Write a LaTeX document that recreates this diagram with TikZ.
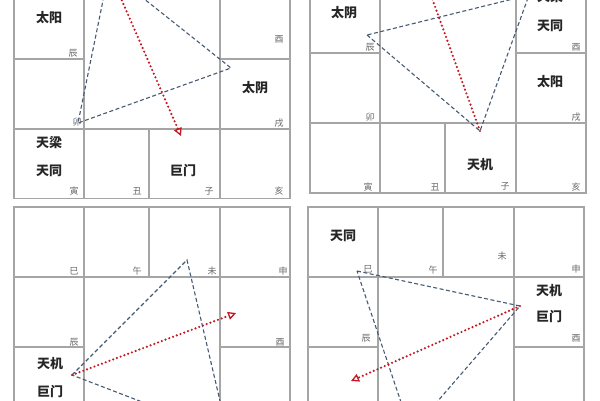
\documentclass[tikz,border=0pt]{standalone}
\usepackage{fontspec}
\newfontfamily\cjk{Noto Sans CJK SC}
\usetikzlibrary{arrows.meta}
\definecolor{cellgray}{RGB}{165,165,165}
\definecolor{trineblue}{RGB}{70,90,115}
\definecolor{oppred}{RGB}{195,25,35}
\definecolor{branchgray}{RGB}{105,105,105}
% one palace chart, top left corner at (#1,#2)
\newcommand{\palacegrid}[2]{%
\draw[cellline] (#1,#2) rectangle ({#1+276},{#2+280});
\draw[cellline] (#1,{#2+70}) -- ({#1+276},{#2+70});
\draw[cellline] (#1,{#2+210}) -- ({#1+276},{#2+210});
\draw[cellline] (#1,{#2+140}) -- ({#1+70},{#2+140});
\draw[cellline] ({#1+206},{#2+140}) -- ({#1+276},{#2+140});
\draw[cellline] ({#1+70},#2) -- ({#1+70},{#2+280});
\draw[cellline] ({#1+206},#2) -- ({#1+206},{#2+280});
\draw[cellline] ({#1+135},#2) -- ({#1+135},{#2+70});
\draw[cellline] ({#1+135},{#2+210}) -- ({#1+135},{#2+280});
}
\begin{document}
\begin{tikzpicture}[x=1pt,y=-1pt,
cellline/.style={cellgray, line width=1.1pt},
star/.style={font=\cjk\bfseries\fontsize{13}{13}\selectfont, text=black!85, inner sep=0},
branch/.style={font=\cjk\fontsize{9}{9}\selectfont, text=branchgray, inner sep=0},
trine/.style={trineblue, line width=1.1pt, dash pattern=on 4pt off 2.5pt},
opp/.style={oppred, line width=2.4pt, line cap=round, dash pattern=on 0pt off 4pt,
  -{Triangle[open, length=8pt, width=8pt, line width=1.3pt]}}]
\useasboundingbox[fill=white] (0,0) rectangle (600,400);

% top left chart
\begin{scope}
\clip (0,0) rectangle (300,198);
\palacegrid{14}{-81}
\node[star] (a-taiyang) at (49,18) {太阳};
\node[star] (a-taiyin) at (255,88) {太阴};
\node[star] (a-tianliang) at (49,143) {天梁};
\node[star] (a-tiantong) at (49,171) {天同};
\node[star] (a-jumen) at (183,171) {巨门};
\node[branch] (a-chen) at (73,53) {辰};
\node[branch] (a-you) at (279,39) {酉};
\node[branch] (a-mao) at (77,122) {卯};
\node[branch] (a-xu) at (279,123) {戌};
\node[branch] (a-yin) at (74,191) {寅};
\node[branch] (a-chou) at (137,191) {丑};
\node[branch] (a-zi) at (209,191) {子};
\node[branch] (a-hai) at (279,191) {亥};
\coordinate (a1) at (109,-29);
\coordinate (a2) at (78,123);
\coordinate (a3) at (231,68);
\coordinate (a-tip) at (181,136);
\draw[trine] (a1) -- (a2) -- (a3) -- cycle;
\draw[opp] (a1) -- (a-tip);
\end{scope}

% top right chart
\begin{scope}
\clip (300,0) rectangle (600,199);
\palacegrid{310}{-87}
\node[star] (b-taiyin) at (344,13) {太阴};
\node[star] (b-tianliang) at (550,-3) {天梁};
\node[star] (b-tiantong) at (550,26) {天同};
\node[star] (b-taiyang) at (550,82) {太阳};
\node[star] (b-tianji) at (480,165) {天机};
\node[branch] (b-chen) at (370,47) {辰};
\node[branch] (b-you) at (576,47) {酉};
\node[branch] (b-mao) at (370,117) {卯};
\node[branch] (b-xu) at (576,117) {戌};
\node[branch] (b-yin) at (368,187) {寅};
\node[branch] (b-chou) at (435,187) {丑};
\node[branch] (b-zi) at (505,186) {子};
\node[branch] (b-hai) at (576,187) {亥};
\coordinate (b1) at (367,35);
\coordinate (b2) at (480,131);
\coordinate (b3) at (529,-5);
\coordinate (b-tip) at (420,-35);
\draw[trine] (b1) -- (b2) -- (b3) -- cycle;
\draw[opp] (b2) -- (b-tip);
\end{scope}

% bottom left chart
\begin{scope}
\clip (0,203) rectangle (300,400);
\palacegrid{14}{207}
\node[star] (c-tianji) at (50,364) {天机};
\node[star] (c-jumen) at (50,391) {巨门};
\node[branch] (c-si) at (74,271) {巳};
\node[branch] (c-wu) at (137,271) {午};
\node[branch] (c-wei) at (212,271) {未};
\node[branch] (c-shen) at (283,271) {申};
\node[branch] (c-chen) at (74,342) {辰};
\node[branch] (c-you) at (280,342) {酉};
\coordinate (c1) at (72,375);
\coordinate (c2) at (187,260);
\coordinate (c3) at (228,435);
\coordinate (c-tip) at (236,313);
\draw[trine] (c1) -- (c2) -- (c3) -- cycle;
\draw[opp] (c1) -- (c-tip);
\end{scope}

% bottom right chart
\begin{scope}
\clip (300,203) rectangle (600,400);
\palacegrid{308}{207}
\node[star] (d-tiantong) at (343,236) {天同};
\node[star] (d-tianji) at (549,291) {天机};
\node[star] (d-jumen) at (549,317) {巨门};
\node[branch] (d-si) at (368,269) {巳};
\node[branch] (d-wu) at (433,270) {午};
\node[branch] (d-wei) at (502,256) {未};
\node[branch] (d-shen) at (576,269) {申};
\node[branch] (d-chen) at (366,338) {辰};
\node[branch] (d-you) at (576,338) {酉};
\coordinate (d1) at (357,271);
\coordinate (d2) at (520,306);
\coordinate (d3) at (411,432);
\coordinate (d-tip) at (351,381);
\draw[trine] (d1) -- (d2) -- (d3) -- cycle;
\draw[opp] (d2) -- (d-tip);
\end{scope}
\end{tikzpicture}
\end{document}
